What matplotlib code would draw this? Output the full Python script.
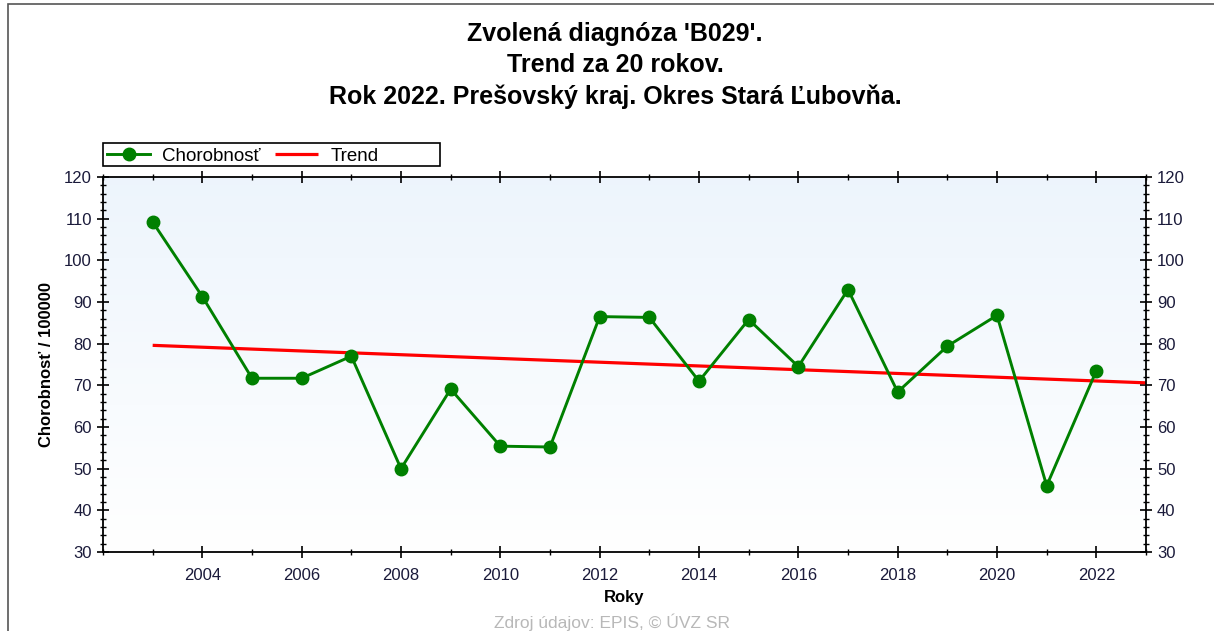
import numpy as np
import matplotlib
matplotlib.use("Agg")
from matplotlib import pyplot as plt
from matplotlib.ticker import MultipleLocator
from matplotlib.patches import Rectangle

plt.rcParams['font.family'] = ['Liberation Sans', 'DejaVu Sans']

# data
roky = [2003, 2004, 2005, 2006, 2007, 2008, 2009, 2010, 2011, 2012,
        2013, 2014, 2015, 2016, 2017, 2018, 2019, 2020, 2021, 2022]
chorobnost = [109.2, 91.3, 71.7, 71.7, 77.0, 50.0, 69.1, 55.4, 55.2, 86.5,
              86.3, 71.0, 85.8, 74.5, 93.0, 68.4, 79.4, 86.8, 45.9, 73.5]
trend_roky = [2003, 2023]
trend_hodnoty = [79.6, 70.6]

tituly = ["Zvolená diagnóza 'B029'.",
          "Trend za 20 rokov.",
          "Rok 2022. Prešovský kraj. Okres Stará Ľubovňa."]

W, H = 1214, 631
fig = plt.figure(figsize=(W / 100, H / 100), dpi=100)
fig.patch.set_facecolor('white')

# frame around the picture
fig.patches.append(Rectangle((8 / W, -0.1), 1.1, 1 - 4 / H + 0.1,
                             transform=fig.transFigure, fill=False,
                             edgecolor='#555555', lw=1.2))

ax = fig.add_axes([103 / W, 1 - 552 / H, (1146 - 103) / W, (552 - 177) / H])
ax.set_xlim(2002, 2023)
ax.set_ylim(30, 120)

# light blue to white gradient background
grad = np.linspace(0, 1, 256).reshape(-1, 1)
top = np.array([0.93, 0.96, 0.99])
bot = np.array([1.0, 1.0, 1.0])
img = top * (1 - grad[..., None]) + bot * grad[..., None]
ax.imshow(img, extent=[2002, 2023, 30, 120], aspect='auto', zorder=0,
          origin='upper')

ax.plot(trend_roky, trend_hodnoty, color='#ff0000', lw=2.3, zorder=2,
        label='Trend', solid_capstyle='butt')
ax.plot(roky, chorobnost, color='#008000', lw=2.1, marker='o', ms=9,
        zorder=3, label='Chorobnosť')

ax.xaxis.set_minor_locator(MultipleLocator(1))
ax.yaxis.set_major_locator(MultipleLocator(10))
ax.yaxis.set_minor_locator(MultipleLocator(2))
ax.set_xticks([2004, 2006, 2008, 2010, 2012, 2014, 2016, 2018, 2020, 2022])

ax.tick_params(axis='both', which='major', direction='inout', length=9,
               width=1.2, labelsize=12, labelcolor='#1a1a3a',
               top=True, right=True, labelright=True)
ax.tick_params(axis='both', which='minor', direction='inout', length=5,
               width=1.0, top=True, right=True)
ax.tick_params(axis='x', which='major', pad=7)
for s in ax.spines.values():
    s.set_linewidth(1.3)
    s.set_color('black')

ax.set_xlabel('Roky', fontsize=12, fontweight='bold', labelpad=5)
ax.set_ylabel('Chorobnosť / 100000', fontsize=12, fontweight='bold',
              labelpad=7)

for i, t in enumerate(tituly):
    fig.text(615 / W, 1 - (34 + i * 31.5) / H, t, ha='center', va='center',
             fontsize=18, fontweight='bold')

# legend box drawn separately, entries placed inside it
fig.patches.append(Rectangle((103 / W, 1 - 166 / H), 337 / W, 23 / H,
                             transform=fig.transFigure, fill=True,
                             facecolor='white', edgecolor='black', lw=1.2))
h, l = ax.get_legend_handles_labels()
leg = fig.legend(h[::-1], l[::-1], ncol=2, loc='center left',
                 bbox_to_anchor=(107 / W, 1 - 156 / H),
                 fontsize=13.5, frameon=False, borderpad=0,
                 handlelength=2.3, handletextpad=0.65, columnspacing=0.75,
                 borderaxespad=0)

fig.text(612 / W, 1 - 622 / H, 'Zdroj údajov: EPIS, © ÚVZ SR',
         ha='center', va='center', fontsize=12.5, color='#b8b8b8')

fig.savefig('out.png', dpi=100)
